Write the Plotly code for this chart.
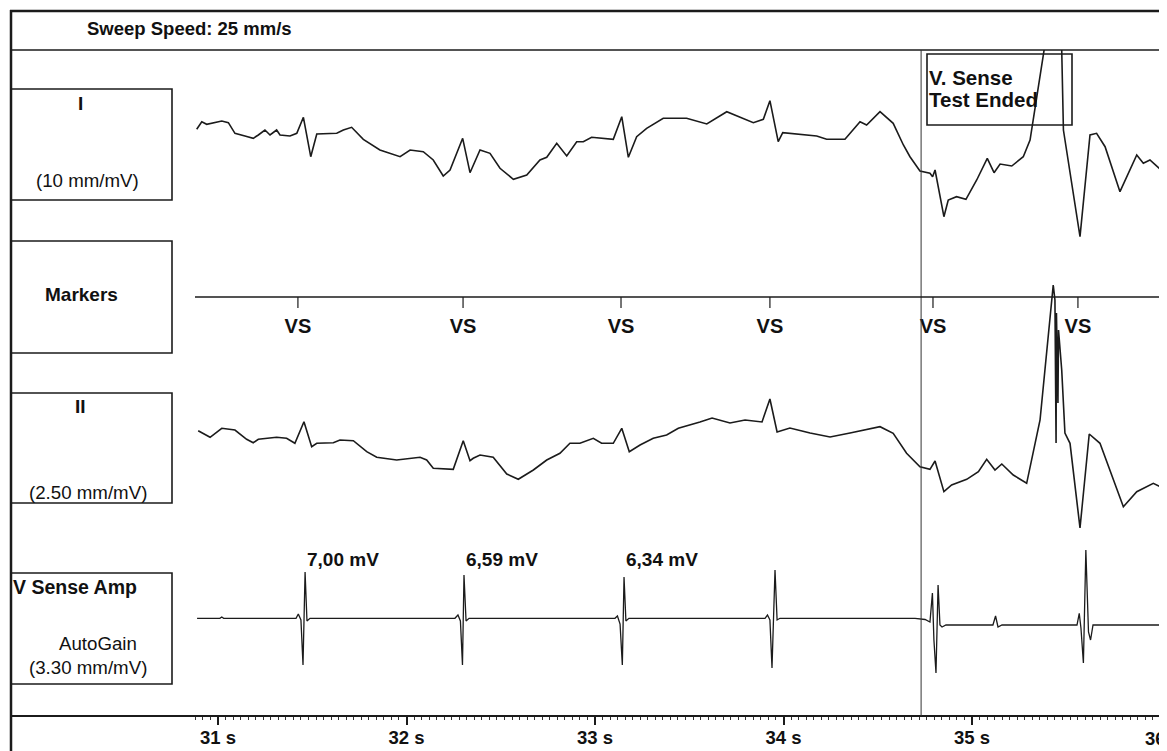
import numpy as np
import plotly.graph_objects as go

# ---------------- data ----------------
lead_I_t = [30.887, 30.914, 30.940, 30.973, 31.020, 31.055, 31.090, 31.143, 31.187, 31.214, 31.249, 31.276,
            31.311, 31.329, 31.382, 31.418, 31.453, 31.492, 31.524, 31.630, 31.665, 31.709, 31.771, 31.859,
            31.966, 32.019, 32.089, 32.142, 32.195, 32.231, 32.298, 32.337, 32.390, 32.443, 32.496, 32.567,
            32.638, 32.708, 32.744, 32.797, 32.850, 32.903, 32.938, 32.982, 33.097, 33.142, 33.177, 33.221,
            33.274, 33.362, 33.486, 33.593, 33.699, 33.840, 33.893, 33.928, 33.972, 33.996, 34.176, 34.229,
            34.326, 34.406, 34.441, 34.512, 34.582, 34.636, 34.671, 34.724, 34.777, 34.791, 34.804, 34.851,
            34.874, 34.918, 34.968, 35.025, 35.081, 35.117, 35.149, 35.211, 35.272, 35.308, 35.343, 35.378,
            35.424, 35.476, 35.485, 35.573, 35.626, 35.661, 35.706, 35.785, 35.874, 35.909, 35.944, 36.033]
lead_I_v = [0.07, 0.83, 0.57, 0.73, 0.9, 0.73, -0.33, -0.6, -0.83, -0.5, 0, -0.5,
            0, -0.5, -0.6, -0.33, 1.27, -2.67, -0.4, -0.33, 0, 0.27, -0.93, -2.0,
            -2.67, -2.0, -2.17, -3.0, -4.6, -4.0, -0.83, -4.27, -2.0, -2.33, -3.83, -4.93,
            -4.5, -3.0, -2.73, -1.33, -2.6, -1.17, -1.17, -0.73, -0.93, 1.33, -2.73, -0.67,
            0.17, 1.17, 1.17, 0.6, 1.83, 0.73, 1.07, 2.93, -1.17, -0.27, -0.6, -0.93,
            -0.93, 0.83, 0.5, 1.83, 0.67, -1.5, -2.67, -4.1, -4.33, -4.67, -4.0, -8.67,
            -7.0, -6.67, -6.93, -5.0, -2.83, -4.27, -3.4, -3.6, -2.67, -1.0, 3.67, 8.0,
            13.0, 8.0, 0, -10.67, -0.5, -0.33, -1.67, -6.17, -2.5, -3.33, -3.0, -4.5]

lead_II_t = [30.895, 30.958, 31.020, 31.090, 31.152, 31.187, 31.214, 31.311, 31.364, 31.408, 31.456, 31.497,
             31.524, 31.612, 31.647, 31.718, 31.789, 31.842, 31.948, 32.072, 32.107, 32.142, 32.248, 32.301,
             32.337, 32.354, 32.390, 32.460, 32.532, 32.593, 32.673, 32.744, 32.814, 32.867, 32.920, 32.991,
             33.035, 33.097, 33.142, 33.182, 33.239, 33.309, 33.380, 33.442, 33.557, 33.621, 33.716, 33.796,
             33.886, 33.928, 33.966, 34.034, 34.141, 34.247, 34.353, 34.432, 34.512, 34.582, 34.653, 34.724,
             34.777, 34.804, 34.851, 34.892, 34.972, 35.034, 35.078, 35.122, 35.158, 35.219, 35.290, 35.361,
             35.405, 35.431, 35.440, 35.446, 35.448, 35.456, 35.459, 35.476, 35.493, 35.520, 35.573, 35.622,
             35.679, 35.732, 35.803, 35.874, 35.962, 36.033]
lead_II_v = [-0.07, -0.73, 0.17, 0, -0.93, -1.27, -0.93, -0.73, -0.83, -1.33, 0.83, -1.67,
             -1.33, -1.27, -1.0, -1.07, -2.17, -2.73, -3.0, -2.73, -3.0, -3.83, -3.93, -1.07,
             -3.07, -2.83, -2.5, -2.73, -4.4, -4.93, -4.0, -3.0, -2.33, -1.33, -1.33, -0.83,
             -1.33, -1.33, 0.17, -2.17, -1.5, -0.83, -0.5, 0.17, 0.8, 1.2, 0.7, 1.0,
             0.8, 3.1, -0.2, 0.2, -0.3, -0.7, -0.3, 0, 0.33, -0.33, -2.33, -3.67,
             -3.93, -3.1, -6.17, -5.5, -4.93, -4.17, -2.93, -4.0, -3.4, -4.5, -5.33, 1.0,
             9.33, 14.5, 13.0, -1.3, 11.7, 2.7, 10.0, 6.0, -0.3, -1.33, -9.8, -0.4,
             -1.33, -4.0, -7.67, -6.17, -5.33, -6.0]

vsense_t = [30.889, 31.010, 31.020, 31.030,
            31.414, 31.426, 31.440, 31.451, 31.462, 31.472, 31.488,
            32.257, 32.273, 32.286, 32.297, 32.305, 32.316, 32.332,
            33.106, 33.119, 33.133, 33.145, 33.154, 33.164, 33.180,
            33.902, 33.915, 33.928, 33.939, 33.955, 33.966, 33.981,
            34.698, 34.751, 34.777, 34.790, 34.798, 34.809, 34.820, 34.830, 34.841, 34.862,
            35.111, 35.125, 35.138, 35.159,
            35.557, 35.569, 35.578, 35.591, 35.604, 35.618, 35.629, 35.642, 36.034]
vsense_v = [0, 0, 0.13, 0,
            0, 0.43, -0.17, -4.67, 4.63, -0.27, 0,
            0, 0.33, -0.27, -4.67, 4.33, -0.27, 0,
            0, 0.23, -0.57, -4.67, 4.13, -0.27, 0,
            0, 0.33, -0.17, -4.97, 4.83, -0.17, 0,
            0, -0.12, -0.37, 2.53, -2.17, -5.47, 3.33, -0.67, -0.87, -0.67,
            -0.67, 0.23, -0.87, -0.67,
            -0.67, 0.5, -0.97, -4.47, 6.83, -1.37, -2.17, -0.67, -0.67]

marker_t = [31.424, 32.300, 33.138, 33.928, 34.793, 35.562]
marker_labels = ["VS", "VS", "VS", "VS", "VS", "VS"]

amp_t = [31.462, 32.305, 33.154]
amp_labels = ["7,00 mV", "6,59 mV", "6,34 mV"]

test_end_t = 34.73
x_start, x_end = 30.878, 36.0345

# ---------------- figure ----------------
OFF = 8                      # page body margin of the html page
W, H = 1167 - OFF, 751 - OFF
def px(x):
    return (x - OFF) / W
def py(y):
    return 1 - (y - OFF) / H

FONT = "Liberation Sans, Arial, sans-serif"
INK = "#1b1b1b"

fig = go.Figure()
line_style = dict(color=INK, width=1.6)
fig.add_trace(go.Scatter(x=lead_I_t, y=lead_I_v, xaxis="x", yaxis="y", mode="lines",
                         line=line_style, showlegend=False, hoverinfo="skip"))
mx, my = [], []
for t in marker_t:
    mx += [t, t, None]
    my += [0, -1.1, None]
fig.add_trace(go.Scatter(x=mx, y=my, xaxis="x", yaxis="y2", mode="lines",
                         line=dict(color=INK, width=1.2), showlegend=False, hoverinfo="skip"))
fig.add_trace(go.Scatter(x=marker_t, y=[-3.1] * len(marker_t), xaxis="x", yaxis="y2", mode="text",
                         text=marker_labels, textposition="middle center",
                         textfont=dict(family=FONT, size=20, color="#111", weight="bold"),
                         showlegend=False, hoverinfo="skip", cliponaxis=False))
fig.add_trace(go.Scatter(x=lead_II_t, y=lead_II_v, xaxis="x", yaxis="y3", mode="lines",
                         line=line_style, showlegend=False, hoverinfo="skip"))
fig.add_trace(go.Scatter(x=vsense_t, y=vsense_v, xaxis="x", yaxis="y4", mode="lines",
                         line=dict(color=INK, width=1.3), showlegend=False, hoverinfo="skip"))

major = np.round(np.arange(31.0, 36.0001, 0.2), 2)
ticktext = [f"{int(round(v))} s" if abs(v - round(v)) < 1e-6 else "" for v in major]
minor = np.round(np.arange(30.88, 36.03, 0.04), 2)
integers = list(range(31, 37))

xdom = [px(195), 1]
axis_pos = py(716)
TICKFONT = dict(family=FONT, size=18.5, color="#111", weight="bold")

fig.update_layout(
    width=W, height=H, margin=dict(l=0, r=0, t=0, b=0),
    paper_bgcolor="white", plot_bgcolor="rgba(0,0,0,0)",
    font=dict(family=FONT, color="#111"),
    xaxis=dict(domain=xdom, range=[x_start, x_end], anchor="free", position=axis_pos,
               showline=False, showgrid=False, zeroline=False,
               tickmode="array", tickvals=major, ticktext=ticktext,
               ticks="outside", ticklen=5, tickwidth=1.5, tickcolor=INK,
               tickfont=TICKFONT,
               minor=dict(tickmode="array", tickvals=minor, ticks="outside", ticklen=3,
                          tickwidth=1, tickcolor="#333", showgrid=False)),
    xaxis2=dict(domain=xdom, range=[x_start, x_end], anchor="free", position=axis_pos,
                overlaying="x", showline=False, showgrid=False, zeroline=False,
                tickmode="array", tickvals=integers, ticks="outside", ticklen=8, tickwidth=2,
                tickcolor=INK, showticklabels=False),
    yaxis=dict(domain=[py(290), py(50)], range=[-16, 8], visible=False),
    yaxis2=dict(domain=[py(360), py(280)], range=[-6.3, 1.7], visible=False),
    yaxis3=dict(domain=[py(560), py(270)], range=[-13, 16], visible=False),
    yaxis4=dict(domain=[py(716), py(530)], range=[-9.77, 8.83], visible=False),
)
fig.add_trace(go.Scatter(x=[x_start], y=[0], xaxis="x2", yaxis="y4", mode="markers",
                         marker=dict(opacity=0), showlegend=False, hoverinfo="skip"))

shapes = []
def hline(x0, x1, y, w):
    shapes.append(dict(type="line", xref="paper", yref="paper", x0=px(x0), x1=px(x1),
                       y0=py(y), y1=py(y), line=dict(color=INK, width=w)))
def vline(x, y0, y1, w):
    shapes.append(dict(type="line", xref="paper", yref="paper", x0=px(x), x1=px(x),
                       y0=py(y0), y1=py(y1), line=dict(color=INK, width=w)))
def rect(x0, y0, x1, y1, w):
    shapes.append(dict(type="rect", xref="paper", yref="paper", x0=px(x0), x1=px(x1),
                       y0=py(y1), y1=py(y0), line=dict(color=INK, width=w)))

hline(10, 1167, 11, 2.5)
vline(11, 10, 751, 2.5)
hline(11, 1167, 50, 1.6)
hline(11, 1167, 716, 2)
rect(11, 89, 172, 200, 1.6)
rect(11, 241, 172, 353, 1.6)
rect(11, 393, 172, 503, 1.6)
rect(11, 573, 172, 684, 1.6)
rect(927, 54, 1072, 125, 1.6)
shapes.append(dict(type="line", xref="x", yref="paper", x0=test_end_t, x1=test_end_t,
                   y0=py(716), y1=py(50), line=dict(color="#333", width=1)))
shapes.append(dict(type="line", xref="x domain", yref="y2", x0=0, x1=1, y0=0, y1=0,
                   line=dict(color=INK, width=1.5)))
fig.update_layout(shapes=shapes)

ann = []
def text(t, x, y, size=18, bold=False, anchor="center"):
    ann.append(dict(text=t, xref="paper", yref="paper", x=px(x), y=py(y), xanchor=anchor,
                    yanchor="middle", showarrow=False,
                    font=dict(family=FONT, size=size, color="#111",
                              weight="bold" if bold else "normal")))

text("Sweep Speed: 25 mm/s", 85, 28, 18.5, True, "left")
text("I", 80, 104, 19, True)
text("(10 mm/mV)", 87, 180, 18.7)
text("Markers", 81, 294, 19, True)
text("II", 80, 406, 19, True)
text("(2.50 mm/mV)", 88, 492, 18.7)
text("V Sense Amp", 11, 587, 19.5, True, "left")
text("AutoGain", 98, 643, 18.7)
text("(3.30 mm/mV)", 88, 667, 18.7)
text("V. Sense", 927, 77, 20.5, True, "left")
text("Test Ended", 927, 100, 20.5, True, "left")

# the last tick label ("36 s") is cut by the right edge of the strip: only "36" shows
ann.append(dict(text="36", xref="paper", yref="paper", x=1, y=py(738), xanchor="right",
                yanchor="middle", showarrow=False, borderpad=0, font=TICKFONT))

for t, lab in zip(amp_t, amp_labels):
    ann.append(dict(text=lab, xref="x", yref="y4", x=t, y=5.9, xanchor="left", yanchor="middle",
                    showarrow=False,
                    font=dict(family=FONT, size=19, color="#111", weight="bold")))
fig.update_layout(annotations=ann)

fig.write_html("out.html")
